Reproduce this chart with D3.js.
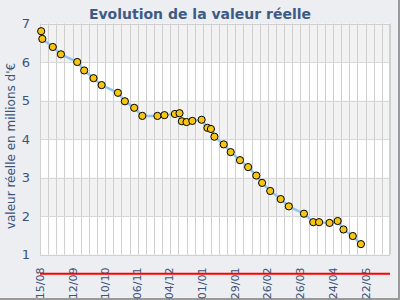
<!DOCTYPE html>
<html>
<head>
<meta charset="utf-8">
<script src="https://cdn.jsdelivr.net/npm/d3@7"></script>
<style>
  html, body { margin: 0; padding: 0; background: #eceef1; }
  svg { display: block; font-family: "DejaVu Sans", Verdana, sans-serif; }
</style>
</head>
<body>
<svg id="chart" width="400" height="300"></svg>
<script>
// ---- data ----
const dates = [
  "2010-08-16","2010-08-17","2010-08-26","2010-09-02","2010-09-16","2010-09-22","2010-09-30","2010-10-07",
  "2010-10-21","2010-10-27","2010-11-04","2010-11-11","2010-11-24","2010-11-30","2010-12-09","2010-12-13",
  "2010-12-15","2010-12-19","2010-12-24","2011-01-01","2011-01-06","2011-01-09","2011-01-12","2011-01-20",
  "2011-01-26","2011-02-03","2011-02-10","2011-02-17","2011-02-22","2011-03-01","2011-03-10","2011-03-17",
  "2011-03-30","2011-04-07","2011-04-12","2011-04-21","2011-04-28","2011-05-03","2011-05-11","2011-05-18"
];
const values = [
  6.80, 6.60, 6.39, 6.20, 6.00, 5.78, 5.58, 5.40,
  5.20, 4.98, 4.81, 4.60, 4.60, 4.62, 4.65, 4.67,
  4.46, 4.44, 4.47, 4.50, 4.29, 4.26, 4.06, 3.86,
  3.66, 3.45, 3.27, 3.05, 2.86, 2.65, 2.44, 2.25,
  2.06, 1.84, 1.84, 1.82, 1.87, 1.65, 1.48, 1.27
];
const xTickDates = ["2010-08-15","2010-09-12","2010-10-10","2010-11-06","2010-12-04","2011-01-01",
                    "2011-01-29","2011-02-26","2011-03-26","2011-04-24","2011-05-22"];
const xTickLabels = ["15/08","12/09","10/10","06/11","04/12","01/01","29/01","26/02","26/03","24/04","22/05"];
const yTicks = [1, 2, 3, 4, 5, 6, 7];
const xDomain = ["2010-08-15", "2011-06-12"];
const yDomain = [1, 7];
const threshold = 0.5;
const title = "Evolution de la valeur réelle";
const yTitle = "valeur réelle en millions d'€";

// ---- drawing ----
const parse = d3.utcParse("%Y-%m-%d");
const W = 400, H = 300;
const m = { left: 40, right: 10, top: 23.5, bottom: 45.5 };
const svg = d3.select("#chart");
const textColor = "#3b5479";

svg.append("rect").attr("width", W).attr("height", H).attr("fill", "#eceef1");
// shadow edges
svg.append("line").attr("x1", W - 1).attr("x2", W - 1).attr("y1", 0).attr("y2", H).attr("stroke", "#9a9a9a").attr("stroke-width", 2);
svg.append("line").attr("x1", 0).attr("x2", W).attr("y1", H - 1).attr("y2", H - 1).attr("stroke", "#9a9a9a").attr("stroke-width", 2);

const x = d3.scaleUtc().domain(xDomain.map(parse)).range([m.left, W - m.right]);
const y = d3.scaleLinear().domain(yDomain).range([H - m.bottom, m.top]);

// plot background
svg.append("rect")
  .attr("x", m.left).attr("y", m.top)
  .attr("width", W - m.right - m.left).attr("height", H - m.bottom - m.top)
  .attr("fill", "#ffffff");

// alternating bands
const bands = yTicks.slice(0, -1).filter((d, i) => i % 2 === 1);
svg.append("g").selectAll("rect").data(bands).join("rect")
  .attr("x", m.left).attr("width", W - m.right - m.left)
  .attr("y", d => y(d + 1)).attr("height", d => y(d) - y(d + 1))
  .attr("fill", "#f2f2f2");

// weekly vertical grid
const start = x.domain()[0], end = x.domain()[1];
const nDays = Math.round((end - start) / 864e5);
const weeks = d3.range(0, nDays + 1, 7).map(k => new Date(start.getTime() + k * 864e5));
const gridV = svg.append("g").attr("class", "vgrid");
weeks.forEach(d => {
  const px = Math.round(x(d)) + 0.5;
  gridV.append("line")
    .attr("x1", px).attr("x2", px)
    .attr("y1", m.top).attr("y2", H - m.bottom)
    .style("stroke", "#cfcfcf").style("stroke-width", "1px");
});

// horizontal grid
svg.append("g").selectAll("line").data(yTicks).join("line")
  .attr("x1", m.left).attr("x2", W - m.right)
  .attr("y1", d => Math.round(y(d)) + 0.5).attr("y2", d => Math.round(y(d)) + 0.5)
  .style("stroke", "#d8d8d8").style("stroke-width", "1px");

// plot border
svg.append("rect")
  .attr("x", m.left + 0.5).attr("y", Math.round(m.top) + 0.5)
  .attr("width", W - m.right - m.left - 1).attr("height", Math.round(H - m.bottom) - Math.round(m.top))
  .attr("fill", "none").style("stroke", "#d0d0d0");

// y axis labels
const yAxis = d3.axisLeft(y).tickValues(yTicks).tickSize(0).tickPadding(0).tickFormat(d3.format("d"));
const gy = svg.append("g").attr("transform", `translate(${m.left - 10},0)`).call(yAxis);
gy.select(".domain").remove();
gy.selectAll("text").attr("fill", textColor).style("font-size", "13px")
  .style("font-family", "'DejaVu Sans', sans-serif");

// x axis labels
const xAxis = d3.axisBottom(x).tickValues(xTickDates.map(parse)).tickSize(0)
  .tickFormat((d, i) => xTickLabels[i]);
const gx = svg.append("g").attr("transform", `translate(0,${H - m.bottom})`).call(xAxis);
gx.select(".domain").remove();
gx.selectAll("text")
  .attr("fill", textColor).style("font-size", "11px")
  .style("font-family", "'DejaVu Sans', sans-serif")
  .attr("text-anchor", "end")
  .attr("transform", "rotate(-90)")
  .attr("x", -13).attr("y", 0).attr("dy", "0.35em");

// titles
svg.append("text").attr("x", W / 2).attr("y", 19).attr("text-anchor", "middle")
  .attr("fill", "#3d5a84").style("font-size", "14px").style("font-weight", "bold")
  .text(title);
svg.append("text").attr("transform", `translate(15,146) rotate(-90)`).attr("text-anchor", "middle")
  .attr("fill", textColor).style("font-size", "12px").text(yTitle);

// data
const data = dates.map((d, i) => ({ date: parse(d), value: values[i] }));
const line = d3.line().x(d => x(d.date)).y(d => y(d.value));
svg.append("path").datum(data).attr("d", line)
  .attr("fill", "none").attr("stroke", "#93c5ef").attr("stroke-width", 2.5);

svg.append("g").selectAll("circle").data(data).join("circle")
  .attr("cx", d => x(d.date)).attr("cy", d => y(d.value)).attr("r", 3.6)
  .attr("fill", "#f7c614").attr("stroke", "#000").attr("stroke-width", 1);

// threshold line
svg.append("line")
  .attr("x1", m.left).attr("x2", W - m.right)
  .attr("y1", y(threshold)).attr("y2", y(threshold))
  .attr("stroke", "#ff0000").attr("stroke-width", 2);
</script>
</body>
</html>
